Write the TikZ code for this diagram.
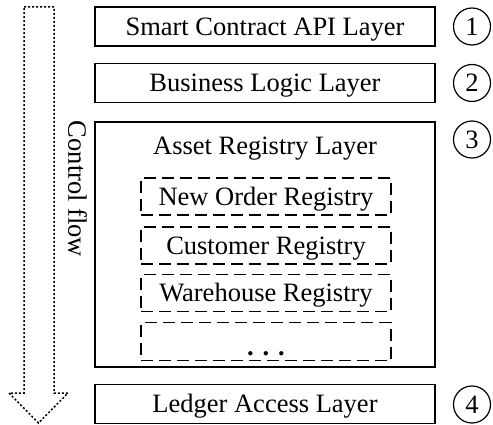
\documentclass[tikz,border=0pt]{standalone}
\usepackage{fontspec}
\setmainfont{Liberation Serif}
\begin{document}
\begin{tikzpicture}[x=1pt, y=-1pt, every node/.style={font=\fontsize{26.5}{30}\selectfont,
					inner sep=0pt, text height=17.5pt, text depth=0pt},
		layer/.style={draw, line width=1.8pt, minimum width=340pt, minimum height=39pt},
		registry/.style={draw, line width=1.5pt, dash pattern=on 12pt off 6pt,
					minimum width=250pt, minimum height=37pt},
		num/.style={draw, circle, line width=1.2pt, minimum size=37pt}]
		\useasboundingbox (0,0) rectangle (493,425);

		\node[layer] (api) at (265,26.5) {Smart Contract API Layer};
		\node[layer] (logic) at (265,83) {Business Logic Layer};
		\node[layer, minimum height=245pt] (asset) at (265,244.5) {};
		\node[layer] (ledger) at (265,404) {Ledger Access Layer};

		\node[anchor=base] (assetname) at (265,155) {Asset Registry Layer};
		\node[registry] (order) at (266,196.5) {New Order Registry};
		\node[registry] (customer) at (266,245.5) {Customer Registry};
		\node[registry] (warehouse) at (266,293) {Warehouse Registry};
		\node[registry, minimum height=38pt] (more) at (266,341.5) {};
		\node[anchor=base] (dots) at (266,355) {\textbf{. . .}};

		\node[num] (n1) at (472,26.5) {1};
		\node[num] (n2) at (472,83) {2};
		\node[num] (n3) at (472,139.5) {3};
		\node[num] (n4) at (472,404.5) {4};

		\node[rotate=-90] (flow) at (77,189) {Control flow};
		\draw[line width=1.5pt, dash pattern=on 2pt off 2pt] (24,7) -- (54,7) -- (54,393)
			-- (68,393) -- (38.5,423) -- (9,393) -- (24,393) -- cycle;
	\end{tikzpicture}
\end{document}
